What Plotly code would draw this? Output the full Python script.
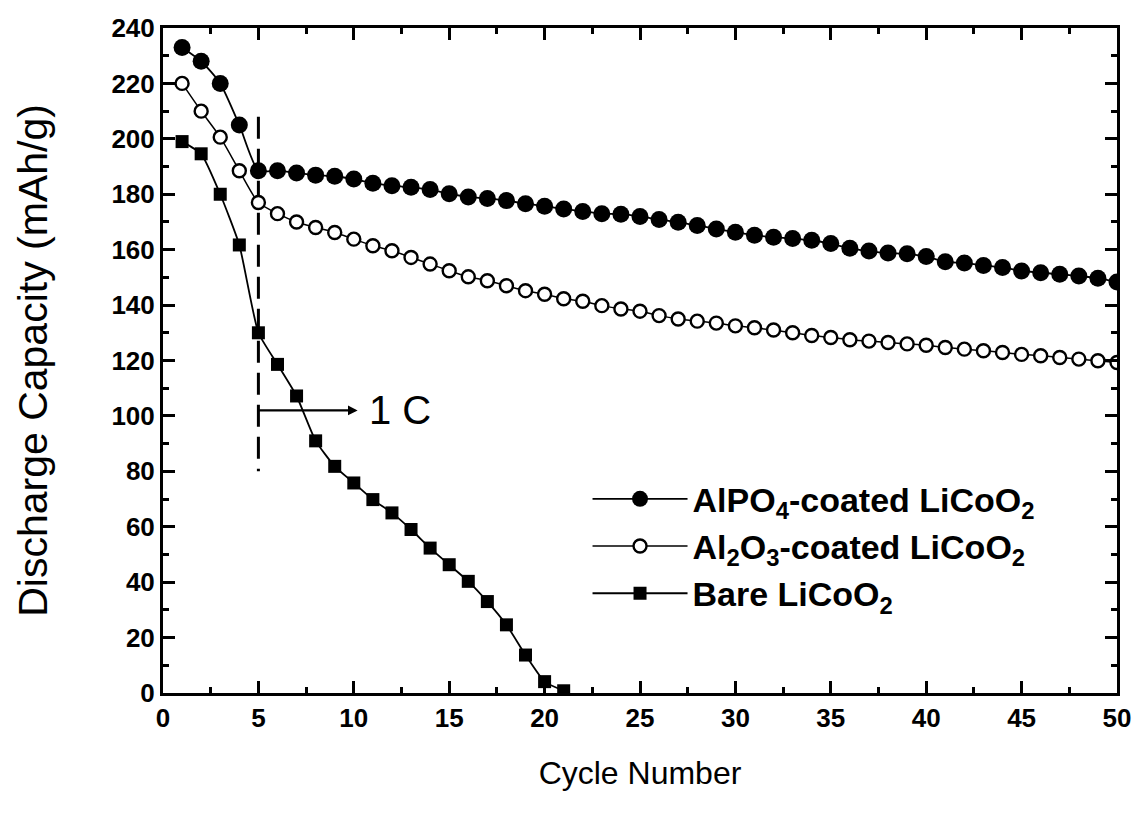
import plotly.graph_objects as go

# Cycle-life data for coated and bare LiCoO2 cathodes
cycles_alpo4 = list(range(1, 51))
cap_alpo4 = [233, 228, 220, 205, 188.5, 188.5, 187.7, 186.9, 186.5, 185.5,
             184, 183.1, 182.5, 181.7, 180.2, 179, 178.5, 177.7, 176.6, 175.7,
             174.7, 173.8, 173, 172.8, 172, 170.9, 169.9, 168.7, 167.5, 166.3,
             165.2, 164.5, 164, 163.4, 162.2, 160.5, 159.5, 158.8, 158.5, 157.5,
             155.6, 155.2, 154.3, 153.6, 152.3, 151.7, 151.1, 150.5, 149.7, 148.3]

cycles_al2o3 = list(range(1, 51))
cap_al2o3 = [220, 210, 200.6, 188.5, 177, 173, 170, 168, 166.2, 163.8,
             161.4, 159.6, 157.2, 154.8, 152.4, 150.2, 148.8, 147, 145.2, 143.9,
             142.3, 141.4, 139.8, 138.6, 137.8, 136.2, 135, 134.2, 133.5, 132.5,
             131.8, 131, 130, 129, 128.3, 127.5, 127, 126.5, 126, 125.5,
             124.7, 124.1, 123.5, 122.9, 122.2, 121.7, 121.1, 120.5, 119.9, 119.3]

cycles_bare = list(range(1, 22))
cap_bare = [199, 194.6, 180, 161.7, 130, 118.6, 107.2, 91, 81.8, 75.8,
            69.8, 65, 59, 52.3, 46.3, 40.3, 33, 24.6, 13.7, 4.1, 0.8]

# Rate switch to 1C after the fifth cycle
rate_switch_cycle = [5, 5]
rate_switch_span = [208, 80]
arrow_level = 102
arrow_end_cycle = 10.2
rate_label = "1 C"

names = ["AlPO<sub>4</sub>-coated LiCoO<sub>2</sub>",
         "Al<sub>2</sub>O<sub>3</sub>-coated LiCoO<sub>2</sub>",
         "Bare LiCoO<sub>2</sub>"]

FONT = "Liberation Sans, Arial, Helvetica, sans-serif"

fig = go.Figure()

fig.add_trace(go.Scatter(
    x=rate_switch_cycle, y=rate_switch_span, mode="lines",
    line=dict(color="black", width=3, dash="22px,10px"),
    showlegend=False, hoverinfo="skip"))

fig.add_trace(go.Scatter(
    x=cycles_alpo4, y=cap_alpo4, name=names[0], mode="lines+markers",
    line=dict(color="black", width=1.8, shape="spline", smoothing=0.6),
    marker=dict(symbol="circle", size=17, color="black",
                line=dict(color="black", width=0))))

fig.add_trace(go.Scatter(
    x=cycles_al2o3, y=cap_al2o3, name=names[1], mode="lines+markers",
    line=dict(color="black", width=1.5, shape="spline", smoothing=0.6),
    marker=dict(symbol="circle", size=13, color="white",
                line=dict(color="black", width=2.4))))

fig.add_trace(go.Scatter(
    x=cycles_bare, y=cap_bare, name=names[2], mode="lines+markers",
    line=dict(color="black", width=1.8, shape="spline", smoothing=0.5),
    marker=dict(symbol="square", size=13, color="black",
                line=dict(color="black", width=0))))

fig.add_annotation(
    x=arrow_end_cycle, y=arrow_level, ax=rate_switch_cycle[0] - 0.15, ay=arrow_level,
    xref="x", yref="y", axref="x", ayref="y",
    showarrow=True, arrowhead=2, arrowsize=0.8, arrowwidth=2.4,
    arrowcolor="black", text="")

fig.add_annotation(
    x=arrow_end_cycle + 0.5, y=arrow_level, xref="x", yref="y",
    text=rate_label, showarrow=False, xanchor="left", yanchor="middle",
    font=dict(family=FONT, size=40, color="black"))

axis_common = dict(
    showline=True, linecolor="black", linewidth=3, mirror="allticks",
    ticks="inside", ticklen=12, tickwidth=3, tickcolor="black",
    showgrid=False, zeroline=False,
    tickfont=dict(family=FONT, size=26, color="black", weight="bold"),
)

fig.update_xaxes(
    range=[0, 50], tickmode="linear", tick0=0, dtick=5,
    minor=dict(ticks="inside", ticklen=6, tickwidth=2.5, tickcolor="black", dtick=2.5, tick0=0),
    title=dict(text="Cycle Number", font=dict(family=FONT, size=32, color="black"), standoff=30),
    **axis_common)

fig.update_yaxes(
    range=[0, 240], tickmode="linear", tick0=0, dtick=20,
    minor=dict(ticks="inside", ticklen=6, tickwidth=2.5, tickcolor="black", dtick=10, tick0=0),
    title=dict(text="Discharge Capacity (mAh/g)", font=dict(family=FONT, size=41, color="black"), standoff=52),
    **axis_common)

fig.update_layout(
    width=1143, height=821,
    margin=dict(l=163, r=21, t=28, b=128),
    paper_bgcolor="white", plot_bgcolor="white",
    font=dict(family=FONT, color="black"),
    legend=dict(
        x=0.445, y=0.335, xanchor="left", yanchor="top",
        bgcolor="rgba(0,0,0,0)", borderwidth=0,
        itemwidth=95, tracegroupgap=0,
        font=dict(family=FONT, size=34, color="black", weight="bold")),
)

fig.write_html("out.html")
